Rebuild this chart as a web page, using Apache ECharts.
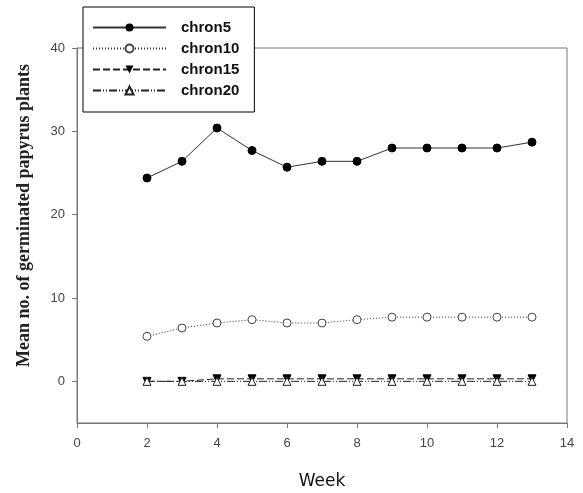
<!DOCTYPE html>
<html>
<head>
<meta charset="utf-8">
<script src="https://cdn.jsdelivr.net/npm/echarts@6/dist/echarts.min.js"></script>
<style>
  html, body { margin: 0; padding: 0; background: #fff; }
  #chart { width: 583px; height: 493px; }
</style>
</head>
<body>
<div id="chart"></div>
<script>
// weeks on x axis
var weeks = [2, 3, 4, 5, 6, 7, 8, 9, 10, 11, 12, 13];
// mean germinated plants per treatment
var chron5 = [24.4, 26.4, 30.4, 27.7, 25.7, 26.4, 26.4, 28.0, 28.0, 28.0, 28.0, 28.7];
var chron10 = [5.4, 6.4, 7.0, 7.4, 7.0, 7.0, 7.4, 7.7, 7.7, 7.7, 7.7, 7.7];
var chron15 = [0, 0, 0.3, 0.3, 0.3, 0.3, 0.3, 0.3, 0.3, 0.3, 0.3, 0.3];
var chron20 = [0, 0, 0, 0, 0, 0, 0, 0, 0, 0, 0, 0];
var yTicks = [0, 10, 20, 30, 40];

function pairs(vals) {
  var out = [];
  for (var i = 0; i < weeks.length; i++) {
    out.push([weeks[i], vals[i]]);
  }
  return out;
}

var chart = echarts.init(document.getElementById('chart'));
chart.setOption({
  animation: false,
  grid: {
    left: 77,
    right: 16,
    top: 48,
    bottom: 70,
    containLabel: false,
    outerBoundsMode: 'none',
    show: true,
    borderColor: '#777',
    borderWidth: 1
  },
  legend: {
    left: 83,
    top: 7,
    orient: 'vertical',
    backgroundColor: '#fff',
    borderColor: '#000',
    borderWidth: 1,
    padding: [12, 15, 13, 9],
    itemWidth: 73,
    itemHeight: 10,
    itemGap: 4,
    textStyle: {
      fontFamily: 'Liberation Sans',
      fontWeight: 'bold',
      fontSize: 15,
      lineHeight: 17,
      color: '#111',
      padding: [0, 0, 0, 10]
    },
    data: ['chron5', 'chron10', 'chron15', 'chron20']
  },
  xAxis: {
    type: 'value',
    min: 0,
    max: 14,
    interval: 2,
    name: 'Week',
    nameLocation: 'middle',
    nameGap: 50,
    nameTextStyle: {
      fontFamily: 'DejaVu Sans',
      fontSize: 17,
      color: '#111'
    },
    axisLine: { onZero: false, lineStyle: { color: '#777' } },
    axisTick: { length: 5, lineStyle: { color: '#777' } },
    axisLabel: {
      margin: 14,
      fontFamily: 'Liberation Sans',
      fontSize: 13,
      color: '#444'
    },
    splitLine: { show: false }
  },
  yAxis: {
    type: 'value',
    min: -5,
    max: 40,
    name: 'Mean no. of germinated papyrus plants',
    nameLocation: 'middle',
    nameGap: 44,
    nameTextStyle: {
      fontFamily: 'Liberation Serif',
      fontWeight: 'bold',
      fontSize: 18,
      color: '#222',
      padding: [0, 0, 0, 40]
    },
    axisLine: { show: true, onZero: false, lineStyle: { color: '#777' } },
    axisTick: { length: 5, customValues: yTicks, lineStyle: { color: '#777' } },
    axisLabel: {
      margin: 12,
      customValues: yTicks,
      fontFamily: 'Liberation Sans',
      fontSize: 13,
      color: '#444'
    },
    splitLine: { show: false }
  },
  series: [
    {
      name: 'chron5',
      type: 'line',
      data: pairs(chron5),
      symbol: 'circle',
      symbolSize: 8,
      itemStyle: { color: '#000', borderColor: '#000' },
      lineStyle: { color: '#333', width: 1 }
    },
    {
      name: 'chron10',
      type: 'line',
      data: pairs(chron10),
      symbol: 'circle',
      symbolSize: 8,
      itemStyle: { color: '#fff', borderColor: '#444', borderWidth: 1 },
      lineStyle: { color: '#333', width: 1, type: [1, 2] }
    },
    {
      name: 'chron15',
      type: 'line',
      data: pairs(chron15),
      symbol: 'triangle',
      symbolRotate: 180,
      symbolSize: 8,
      itemStyle: { color: '#000', borderColor: '#000' },
      lineStyle: { color: '#222', width: 1, type: [7, 3] }
    },
    {
      name: 'chron20',
      type: 'line',
      data: pairs(chron20),
      symbol: 'triangle',
      symbolSize: 8,
      itemStyle: { color: '#fff', borderColor: '#222', borderWidth: 1 },
      lineStyle: { color: '#222', width: 1, type: [8, 2, 1, 2, 1, 2] }
    }
  ]
});
</script>
</body>
</html>
